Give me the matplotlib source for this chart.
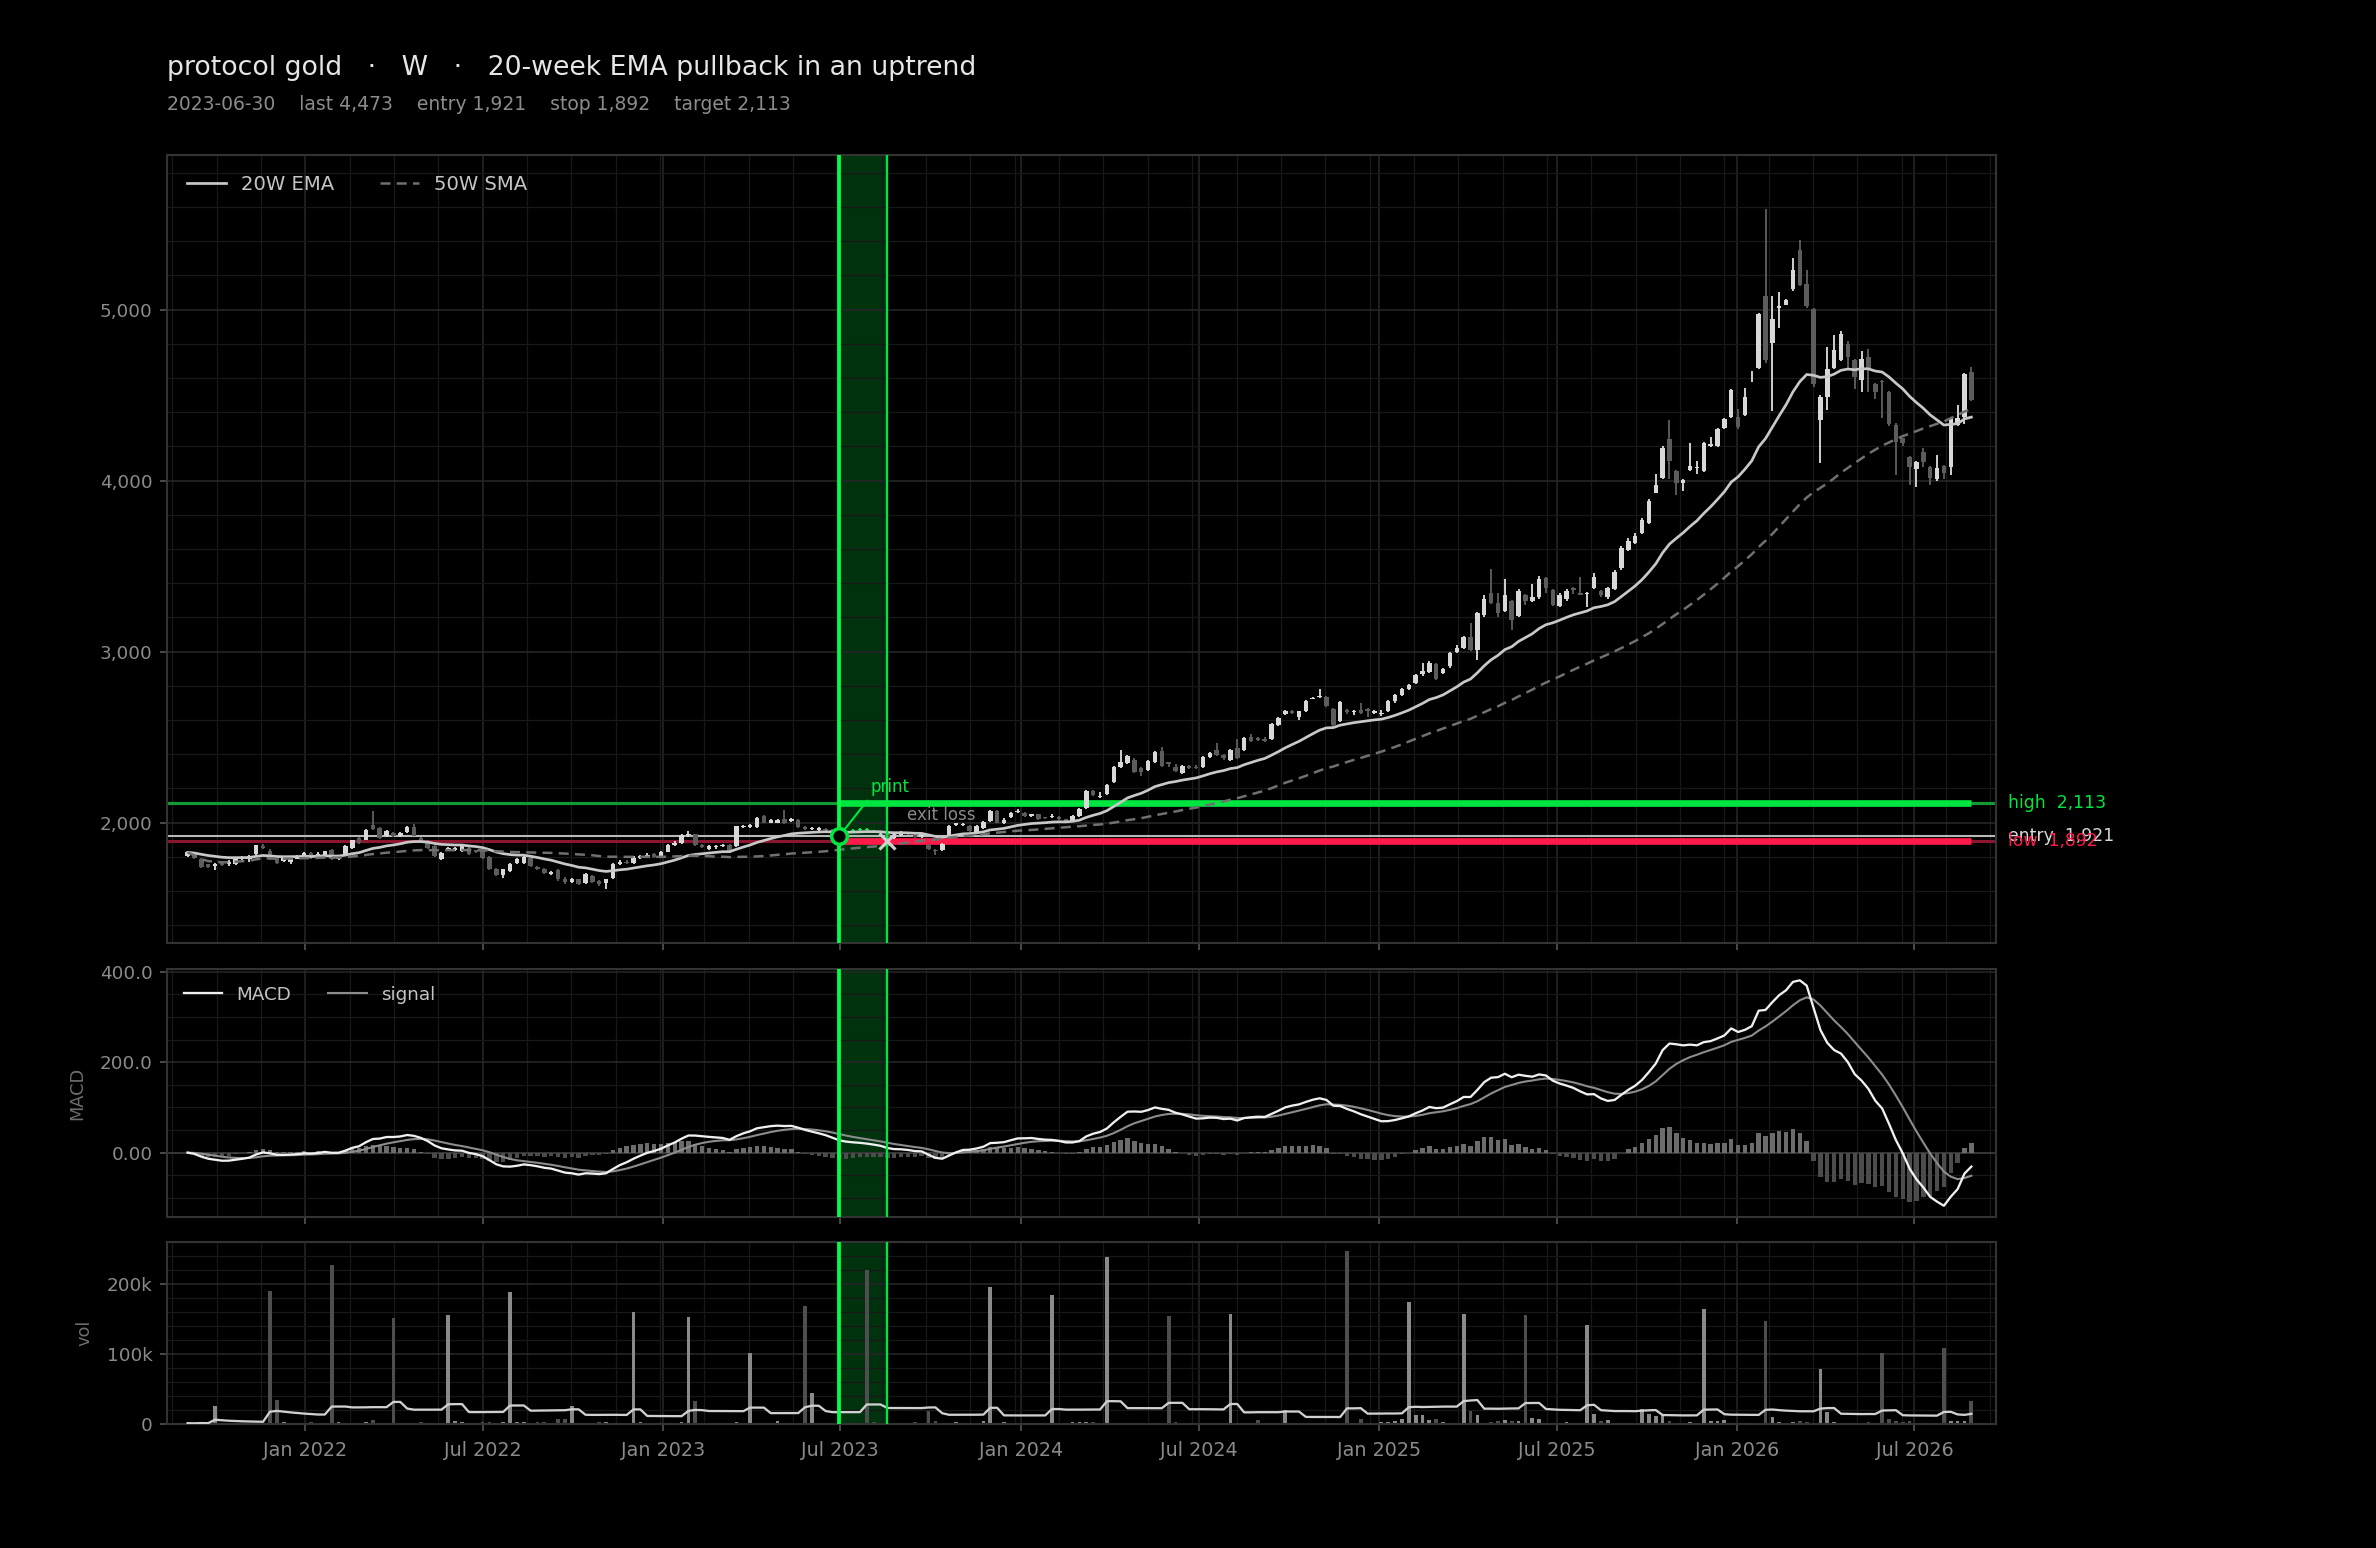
import numpy as np
import pandas as pd
import matplotlib
matplotlib.use("Agg")
import matplotlib.pyplot as plt
import matplotlib.dates as mdates
from matplotlib.ticker import MultipleLocator, AutoMinorLocator, FuncFormatter

plt.rcParams['font.family'] = ['DejaVu Sans']

# ---------------- data ----------------
SYMBOL = "protocol gold"
TIMEFRAME = "W"
SETUP = "20-week EMA pullback in an uptrend"
FIRST_BAR = "2021-09-03"
N_BARS = 261
SIGNAL_DATE = "2023-06-30"
EXIT_DATE = "2023-08-18"
ENTRY = 1921
STOP = 1892
TARGET = 2113

opens = [
    1807, 1820, 1788, 1755, 1745, 1768, 1755, 1760, 1790, 1784,
    1813, 1863, 1836, 1790, 1775, 1770, 1788, 1800, 1822, 1800,
    1807, 1842, 1786, 1808, 1852, 1910, 1900, 1988, 1970, 1920,
    1940, 1920, 1944, 1973, 1910, 1891, 1862, 1788, 1842, 1838,
    1833, 1852, 1838, 1832, 1799, 1729, 1696, 1716, 1765, 1765,
    1794, 1741, 1729, 1700, 1725, 1672, 1650, 1668, 1645, 1690,
    1660, 1645, 1675, 1760, 1772, 1765, 1795, 1800, 1815, 1802,
    1830, 1866, 1880, 1925, 1930, 1868, 1845, 1855, 1860, 1866,
    1860, 1972, 1975, 1975, 2037, 2000, 2000, 2022, 2010, 2012,
    1972, 1962, 1958, 1964, 1955, 1932, 1921, 1945, 1958, 1962,
    1952, 1946, 1935, 1910, 1925, 1940, 1928, 1918, 1870, 1842,
    1842, 1910, 1985, 1986, 1978, 1940, 1970, 2008, 2066, 2000,
    2030, 2062, 2056, 2037, 2047, 2030, 2030, 2035, 2018, 2008,
    2037, 2086, 2183, 2150, 2165, 2237, 2325, 2350, 2368, 2320,
    2305, 2352, 2416, 2352, 2325, 2290, 2330, 2325, 2325, 2383,
    2426, 2397, 2368, 2436, 2426, 2500, 2495, 2490, 2487, 2572,
    2636, 2655, 2620, 2650, 2725, 2735, 2732, 2664, 2592, 2660,
    2645, 2660, 2662, 2640, 2632, 2650, 2708, 2746, 2780, 2817,
    2866, 2880, 2926, 2874, 2913, 2995, 3020, 3084, 3010, 3215,
    3341, 3283, 3240, 3293, 3210, 3331, 3293, 3318, 3432, 3360,
    3264, 3306, 3370, 3345, 3335, 3370, 3355, 3320, 3365, 3487,
    3595, 3638, 3692, 3754, 3930, 4017, 4246, 4057, 3984, 4062,
    4075, 4058, 4203, 4202, 4310, 4373, 4373, 4383, 4580, 4661,
    5078, 4806, 5010, 5030, 5119, 5347, 5153, 5006, 4354, 4490,
    4656, 4704, 4798, 4704, 4587, 4724, 4564, 4585, 4520, 4325,
    4247, 4140, 4066, 4169, 4081, 4008, 4085, 4081, 4325, 4372,
    4636,
]

closes = [
    1825, 1790, 1741, 1742, 1756, 1750, 1770, 1793, 1795, 1806,
    1866, 1853, 1784, 1765, 1790, 1800, 1806, 1822, 1790, 1818,
    1832, 1784, 1806, 1862, 1895, 1881, 1959, 1963, 1910, 1949,
    1920, 1940, 1973, 1924, 1891, 1852, 1803, 1823, 1852, 1852,
    1866, 1813, 1826, 1793, 1729, 1696, 1726, 1760, 1784, 1800,
    1745, 1726, 1706, 1710, 1667, 1650, 1668, 1640, 1698, 1655,
    1640, 1668, 1760, 1772, 1762, 1795, 1802, 1812, 1800, 1826,
    1868, 1882, 1925, 1935, 1870, 1858, 1860, 1864, 1866, 1830,
    1977, 1980, 1983, 2027, 2000, 2014, 2012, 2000, 2022, 1975,
    1962, 1970, 1966, 1958, 1933, 1921, 1945, 1958, 1962, 1955,
    1946, 1938, 1905, 1924, 1943, 1930, 1915, 1930, 1845, 1832,
    1872, 1978, 1995, 1993, 1950, 1978, 2003, 2066, 2000, 2012,
    2056, 2068, 2037, 2047, 2018, 2024, 2037, 2018, 2002, 2037,
    2080, 2183, 2160, 2156, 2222, 2325, 2352, 2387, 2294, 2294,
    2362, 2410, 2329, 2345, 2300, 2329, 2319, 2319, 2383, 2407,
    2397, 2378, 2426, 2378, 2496, 2475, 2484, 2478, 2578, 2612,
    2650, 2640, 2650, 2708, 2730, 2740, 2680, 2573, 2703, 2645,
    2655, 2640, 2650, 2650, 2642, 2709, 2747, 2780, 2806, 2864,
    2885, 2936, 2839, 2897, 2990, 3020, 3084, 3010, 3225, 3306,
    3283, 3225, 3331, 3186, 3357, 3293, 3318, 3425, 3370, 3273,
    3331, 3357, 3358, 3333, 3345, 3435, 3330, 3370, 3468, 3608,
    3649, 3676, 3770, 3883, 3974, 4190, 4114, 3984, 4004, 4083,
    4081, 4218, 4213, 4300, 4360, 4529, 4315, 4490, 4585, 4973,
    4704, 4948, 5020, 5055, 5230, 5146, 5020, 4568, 4490, 4650,
    4762, 4856, 4724, 4607, 4714, 4646, 4520, 4578, 4334, 4227,
    4218, 4077, 4110, 4110, 4013, 4071, 4045, 4369, 4369, 4623,
    4473,
]

highs = [
    1832, 1825, 1795, 1760, 1762, 1775, 1778, 1798, 1805, 1812,
    1870, 1875, 1845, 1795, 1795, 1805, 1812, 1826, 1828, 1826,
    1836, 1848, 1812, 1866, 1900, 1915, 1963, 2066, 1975, 1955,
    1946, 1946, 1978, 1992, 1915, 1895, 1866, 1828, 1858, 1858,
    1872, 1858, 1842, 1838, 1804, 1734, 1731, 1765, 1790, 1806,
    1800, 1746, 1734, 1716, 1730, 1680, 1675, 1672, 1705, 1695,
    1666, 1672, 1766, 1780, 1782, 1802, 1810, 1820, 1822, 1832,
    1872, 1890, 1932, 1950, 1935, 1872, 1866, 1870, 1872, 1872,
    1982, 1988, 1990, 2032, 2042, 2020, 2018, 2072, 2028, 2018,
    1978, 1976, 1972, 1970, 1960, 1938, 1950, 1965, 1968, 1966,
    1958, 1950, 1940, 1930, 1948, 1946, 1932, 1935, 1875, 1848,
    1878, 1984, 2000, 1998, 1985, 1984, 2008, 2072, 2072, 2025,
    2062, 2082, 2062, 2052, 2052, 2035, 2050, 2040, 2022, 2042,
    2086, 2190, 2188, 2180, 2228, 2330, 2426, 2395, 2375, 2326,
    2368, 2416, 2440, 2356, 2342, 2335, 2335, 2335, 2390, 2412,
    2466, 2402, 2432, 2490, 2502, 2520, 2502, 2498, 2584, 2618,
    2660, 2660, 2655, 2714, 2736, 2780, 2740, 2670, 2708, 2665,
    2660, 2700, 2668, 2656, 2660, 2714, 2752, 2786, 2812, 2870,
    2936, 2942, 2932, 2902, 2996, 3040, 3090, 3166, 3232, 3330,
    3481, 3342, 3423, 3300, 3364, 3338, 3396, 3440, 3438, 3366,
    3340, 3364, 3375, 3435, 3350, 3458, 3362, 3376, 3475, 3615,
    3665, 3692, 3780, 3890, 4040, 4200, 4354, 4062, 4012, 4222,
    4115, 4225, 4258, 4308, 4366, 4536, 4420, 4540, 4640, 4980,
    5587, 5080, 5104, 5065, 5300, 5405, 5230, 5012, 4500, 4782,
    4850, 4875, 4818, 4710, 4760, 4770, 4570, 4590, 4525, 4335,
    4252, 4145, 4116, 4190, 4086, 4150, 4090, 4375, 4440, 4630,
    4665,
]

lows = [
    1800, 1785, 1735, 1735, 1725, 1745, 1745, 1752, 1782, 1768,
    1808, 1848, 1780, 1760, 1770, 1755, 1784, 1797, 1786, 1795,
    1802, 1780, 1780, 1804, 1848, 1876, 1895, 1958, 1905, 1915,
    1915, 1915, 1940, 1920, 1886, 1848, 1798, 1783, 1838, 1832,
    1828, 1808, 1820, 1788, 1724, 1690, 1673, 1710, 1760, 1760,
    1740, 1720, 1700, 1695, 1660, 1640, 1645, 1632, 1640, 1648,
    1630, 1613, 1670, 1752, 1755, 1760, 1788, 1795, 1794, 1798,
    1825, 1860, 1876, 1918, 1864, 1850, 1840, 1848, 1854, 1822,
    1855, 1966, 1970, 1970, 1995, 1995, 1995, 1994, 2005, 1970,
    1955, 1956, 1952, 1950, 1928, 1914, 1915, 1940, 1950, 1948,
    1940, 1932, 1886, 1905, 1920, 1925, 1910, 1912, 1838, 1810,
    1836, 1905, 1980, 1980, 1945, 1935, 1965, 2003, 1995, 1990,
    2025, 2058, 2032, 2030, 2012, 2018, 2026, 2012, 1996, 2002,
    2032, 2080, 2155, 2145, 2160, 2232, 2320, 2345, 2288, 2270,
    2300, 2346, 2322, 2325, 2294, 2285, 2312, 2312, 2320, 2378,
    2392, 2366, 2362, 2372, 2420, 2470, 2478, 2472, 2480, 2566,
    2630, 2634, 2600, 2645, 2720, 2730, 2674, 2566, 2586, 2635,
    2630, 2634, 2620, 2635, 2625, 2645, 2702, 2740, 2775, 2810,
    2860, 2875, 2834, 2868, 2906, 2990, 3014, 3004, 2952, 3200,
    3276, 3200, 3234, 3127, 3200, 3270, 3288, 3310, 3340, 3266,
    3258, 3296, 3336, 3328, 3260, 3365, 3322, 3310, 3358, 3480,
    3590, 3632, 3686, 3748, 3925, 4010, 4010, 3918, 3940, 4056,
    4040, 4050, 4198, 4196, 4304, 4366, 4300, 4376, 4575, 4654,
    4690, 4406, 4893, 5025, 5112, 5140, 5010, 4548, 4101, 4413,
    4650, 4700, 4660, 4535, 4520, 4520, 4480, 4364, 4320, 4033,
    4200, 3972, 3965, 4080, 3972, 4000, 4010, 4030, 4320, 4330,
    4465,
]

# weekly volume, thousands of contracts
volume_k = [
    1.2, 0.8, 2.0, 0.9, 26, 1.1, 0.7, 1.3, 1.0, 0.9,
    1.4, 1.0, 190, 34, 2.5, 1.2, 0.8, 1.1, 2.2, 0.9,
    1.3, 228, 3.5, 1.0, 0.9, 1.6, 2.4, 6.0, 1.1, 0.8,
    151, 1.2, 0.9, 1.5, 2.8, 1.0, 0.7, 2.1, 156, 5.0,
    2.2, 0.9, 1.0, 3.4, 3.0, 1.2, 3.1, 189, 2.6, 2.4,
    1.1, 3.3, 2.2, 1.9, 6.5, 7.0, 26, 1.4, 0.9, 1.2,
    3.5, 2.6, 1.0, 0.8, 1.5, 160, 2.4, 1.9, 0.8, 0.7,
    0.9, 1.6, 2.3, 153, 33, 1.2, 0.8, 0.6, 1.0, 0.9,
    2.5, 0.8, 102, 1.4, 1.0, 2.1, 4.0, 1.3, 1.0, 0.9,
    169, 45, 1.2, 0.9, 1.0, 0.8, 1.1, 1.0, 1.4, 220,
    2.9, 0.8, 1.2, 0.9, 1.5, 1.0, 3.0, 0.8, 18, 4.1,
    1.2, 0.9, 2.6, 1.0, 0.8, 1.1, 5.0, 196, 1.3, 3.0,
    1.0, 0.7, 1.2, 1.4, 0.9, 1.8, 185, 0.9, 1.0, 2.8,
    3.0, 3.2, 2.9, 1.2, 239, 1.5, 1.3, 1.1, 1.0, 0.8,
    0.9, 1.1, 1.2, 155, 2.5, 1.0, 0.9, 1.8, 0.8, 0.9,
    1.3, 0.9, 158, 1.2, 0.8, 0.9, 6.0, 0.8, 0.7, 1.0,
    20, 1.1, 0.9, 1.0, 0.8, 1.2, 0.9, 1.1, 0.8, 248,
    1.5, 7.0, 1.0, 0.9, 3.0, 3.5, 5.0, 6.5, 175, 13,
    13, 6.0, 7.0, 2.5, 1.0, 1.2, 158, 19, 13, 1.5,
    2.2, 4.0, 6.0, 4.2, 5.0, 156, 8.0, 7.0, 2.0, 1.0,
    1.5, 2.5, 1.0, 0.9, 142, 15, 4.0, 5.5, 1.0, 2.0,
    0.8, 1.2, 21, 15, 11, 14, 4.0, 1.0, 1.5, 3.0,
    0.9, 165, 4.0, 5.0, 6.0, 1.0, 2.0, 1.5, 0.9, 1.2,
    147, 10, 2.5, 1.0, 3.0, 4.0, 3.0, 2.0, 78, 17,
    3.0, 2.0, 1.0, 2.0, 1.5, 3.5, 1.0, 102, 7.0, 4.5,
    3.5, 4.0, 1.0, 1.5, 1.0, 0.8, 109, 5.0, 4.0, 4.0,
    33,
]

# ---------------- derived ----------------
dates = pd.date_range(FIRST_BAR, periods=N_BARS, freq="W-FRI")
o = np.array(opens, float)
c = np.array(closes, float)
h = np.array(highs, float)
l = np.array(lows, float)
vol = np.array(volume_k, float) * 1000.0
x = mdates.date2num(dates.to_pydatetime())
sig_x = mdates.date2num(pd.Timestamp(SIGNAL_DATE).to_pydatetime())
exit_x = mdates.date2num(pd.Timestamp(EXIT_DATE).to_pydatetime())

cs = pd.Series(c)
ema20 = cs.ewm(span=20, adjust=False).mean()
sma50 = cs.rolling(50, min_periods=1).mean()
ema12 = cs.ewm(span=12, adjust=False).mean()
ema26 = cs.ewm(span=26, adjust=False).mean()
macd = ema12 - ema26
signal = macd.ewm(span=9, adjust=False).mean()
hist = macd - signal
vol_ma = pd.Series(vol).rolling(20, min_periods=1).mean()

# ---------------- style ----------------
BG = "#000000"
GRID_MAJ = "#252525"
GRID_MIN = "#181818"
SPINE = "#333333"
TICKC = "#8a8a8a"
UP = "#d8d8d8"
DN = "#5c5c5c"
GREEN = "#00e640"
GREEN_B = "#00ff44"
RED = "#ff1a4a"

fig = plt.figure(figsize=(15.84, 10.32), dpi=150)
fig.patch.set_facecolor(BG)

L, W = 0.0703, 0.7697
ax = fig.add_axes([L, 0.3908, W, 0.5091])
axm = fig.add_axes([L, 0.2138, W, 0.1602], sharex=ax)
axv = fig.add_axes([L, 0.0801, W, 0.1176], sharex=ax)

for a in (ax, axm, axv):
    a.set_facecolor(BG)
    for s in a.spines.values():
        s.set_color(SPINE)
        s.set_linewidth(1.0)
    a.tick_params(which="major", colors="#555555", labelcolor=TICKC,
                  labelsize=8.8, length=3.5, width=0.8)
    a.tick_params(which="minor", length=0)
    a.yaxis.set_minor_locator(AutoMinorLocator())
    a.grid(which="major", color=GRID_MAJ, lw=0.8)
    a.grid(which="minor", color=GRID_MIN, lw=0.6)
    # trade window
    a.axvspan(sig_x, exit_x, color="#00c83a", alpha=0.25, lw=0, zorder=0.5)
    a.axvline(sig_x, color=GREEN_B, lw=1.8, zorder=5)
    a.axvline(exit_x, color=GREEN, lw=1.1, zorder=5)

# x axis
axv.xaxis.set_major_locator(mdates.MonthLocator(bymonth=[1, 7]))
axv.xaxis.set_major_formatter(mdates.DateFormatter("%b %Y"))
axv.xaxis.set_minor_locator(AutoMinorLocator())
axv.tick_params(axis="x", which="major", labelsize=9.2, pad=4.5)
axv.set_xlim(x[0] - 21, x[-1] + 25)
plt.setp(ax.get_xticklabels(), visible=False)
plt.setp(axm.get_xticklabels(), visible=False)

# ---------------- price panel ----------------
in_win = (x > sig_x) & (x < exit_x)
cols = np.where(c >= o, UP, DN).astype(object)
cols[in_win] = GREEN
ax.vlines(x, l, h, colors=list(cols), lw=0.9, zorder=3)
body_bot = np.minimum(o, c)
body_h = np.maximum(np.abs(c - o), 4)
ax.bar(x, body_h, bottom=body_bot, width=4.6, color=list(cols), lw=0, zorder=3.1)

ax.plot(x, ema20, color="#c8c8c8", lw=1.3, zorder=4, label="20W EMA")
ax.plot(x, sma50, color="#707070", lw=1.2, ls=(0, (4, 2.5)), zorder=4, label="50W SMA")

# levels
ax.axhline(TARGET, color="#139a33", lw=1.5, zorder=1.8)
ax.axhline(STOP, color="#8c1530", lw=1.5, zorder=1.8)
ax.hlines(TARGET, sig_x, x[-1], color=GREEN, lw=3.2, zorder=2.2)
ax.hlines(STOP, sig_x, x[-1], color=RED, lw=3.2, zorder=2.2)
ax.axhline(ENTRY, color="#b8b8b8", lw=1.0, zorder=2.3)

ax.plot([sig_x], [ENTRY], "o", ms=7.5, mfc=BG, mec=GREEN, mew=1.7, zorder=7)
ax.plot([exit_x], [STOP], "x", ms=8, mec="#cfcfcf", mew=1.5, zorder=7)
ax.annotate("print", xy=(sig_x, ENTRY), xytext=(15, 19), textcoords="offset points",
            color=GREEN, fontsize=8, ha="left", va="bottom", zorder=8,
            arrowprops=dict(arrowstyle="-", color=GREEN, lw=1.0, shrinkA=0,
                            shrinkB=4, relpos=(0, 0)))
ax.annotate("exit loss", xy=(exit_x, STOP), xytext=(9.6, 12.5), textcoords="offset points",
            color="#8a8a8a", fontsize=8, ha="left", va="center", zorder=8)

for txt, val, col in ((f"high  {TARGET:,}", TARGET, GREEN),
                      (f"entry  {ENTRY:,}", ENTRY, "#d8d8d8"),
                      (f"low  {STOP:,}", STOP, RED)):
    ax.annotate(txt, xy=(1, val), xycoords=("axes fraction", "data"),
                xytext=(6, 0), textcoords="offset points", color=col,
                fontsize=8.3, ha="left", va="center", annotation_clip=False)

ax.margins(y=0.08)
ax.yaxis.set_major_locator(MultipleLocator(1000))
ax.yaxis.set_major_formatter(FuncFormatter(lambda v, p: f"{v:,.0f}"))
ax.legend(loc="upper left", ncol=2, frameon=False, fontsize=9.4,
          labelcolor="#c4c4c4", handlelength=2.0, columnspacing=2.3,
          handletextpad=0.8, borderaxespad=0.6)

# ---------------- MACD panel ----------------
hcols = np.where(hist >= 0, "#6c6c6c", "#4c4c4c")
axm.bar(x, hist, width=4.5, color=list(hcols), lw=0, zorder=2)
axm.axhline(0, color="#3a3a3a", lw=0.8, zorder=1.6)
axm.plot(x, macd, color="#f0f0f0", lw=1.1, zorder=4, label="MACD")
axm.plot(x, signal, color="#8c8c8c", lw=1.0, zorder=3.5, label="signal")
axm.yaxis.set_major_locator(MultipleLocator(200))
axm.yaxis.set_major_formatter(FuncFormatter(
    lambda v, p: f"{v:.2f}" if abs(v) < 100 else f"{v:.1f}"))
axm.set_ylabel("MACD", color="#6e6e6e", fontsize=8.5)
axm.yaxis.set_label_coords(-0.044, 0.5)
axm.legend(loc="upper left", ncol=2, frameon=False, fontsize=8.8,
           labelcolor="#c4c4c4", handlelength=2.1, columnspacing=2.0,
           handletextpad=0.8)

# ---------------- volume panel ----------------
vcols = np.where(c >= o, "#8a8a8a", "#4e4e4e")
axv.bar(x, vol, width=3.8, color=list(vcols), lw=0, zorder=2)
axv.plot(x, vol_ma, color="#d0d0d0", lw=1.1, zorder=4)
axv.yaxis.set_major_locator(MultipleLocator(100000))
axv.yaxis.set_major_formatter(FuncFormatter(
    lambda v, p: "0" if v == 0 else f"{v / 1000:.0f}k"))
axv.set_ylabel("vol", color="#6e6e6e", fontsize=8.5)
axv.yaxis.set_label_coords(-0.040, 0.5)

# ---------------- titles ----------------
fig.text(L, 0.956, f"{SYMBOL}   ·   {TIMEFRAME}   ·   {SETUP}",
         color="#e6e6e6", fontsize=12.85, va="center", ha="left")
fig.text(L, 0.9328,
         f"{SIGNAL_DATE}    last {closes[-1]:,}    entry {ENTRY:,}    "
         f"stop {STOP:,}    target {TARGET:,}",
         color="#8c8c8c", fontsize=9.0, va="center", ha="left")

fig.savefig("out.png", dpi=150, facecolor=BG)
